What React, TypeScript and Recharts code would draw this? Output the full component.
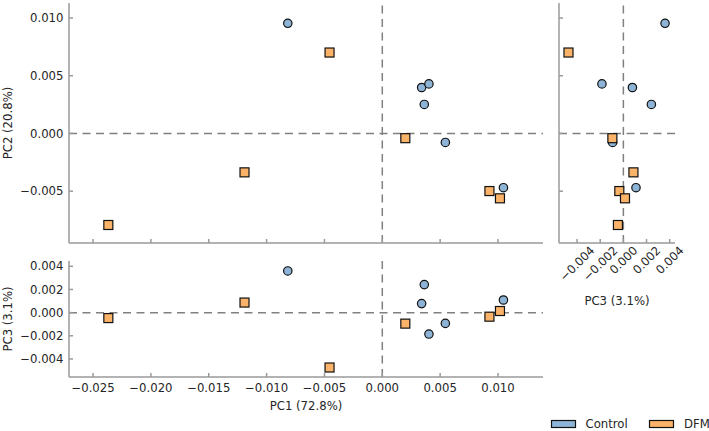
import React from 'react';
import { ScatterChart, Scatter, XAxis, YAxis, ReferenceLine } from 'recharts';

// sample scores, one entry per sample (same order in each array)
const controlPC1 = [-0.00817, 0.0034, 0.00403, 0.00363, 0.00545, 0.01047];
const controlPC2 = [0.00954, 0.00398, 0.00429, 0.00251, -0.00078, -0.0047];
const controlPC3 = [0.0036, 0.00078, -0.00185, 0.00242, -0.00093, 0.00109];

const dfmPC1 = [-0.00456, -0.01191, -0.02368, 0.00199, 0.00926, 0.01017];
const dfmPC2 = [0.00701, -0.00337, -0.00793, -0.00041, -0.00499, -0.00562];
const dfmPC3 = [-0.00474, 0.00087, -0.00047, -0.00095, -0.00035, 0.00014];

const pc1Ticks = [-0.025, -0.02, -0.015, -0.01, -0.005, 0, 0.005, 0.01];
const pc2Ticks = [-0.005, 0, 0.005, 0.01];
const pc3Ticks = [-0.004, -0.002, 0, 0.002, 0.004];

const pc1Domain: [number, number] = [-0.02708, 0.01389];
const pc2Domain: [number, number] = [-0.00949, 0.0113];
const pc3Domain: [number, number] = [-0.00556, 0.00446];

const BLUE = '#8db4d6';
const ORANGE = '#fbb36a';
const SPINE = '#9a9a9a';
const TEXT = '#262626';
const FONT = 'DejaVu Sans';
const FS = 11.7;

const toRows = (a: number[], b: number[], c: number[]) =>
  a.map((v, i) => ({ pc1: v, pc2: b[i], pc3: c[i] }));

const controlData = toRows(controlPC1, controlPC2, controlPC3);
const dfmData = toRows(dfmPC1, dfmPC2, dfmPC3);

const fmt = (v: number) => v.toFixed(3).replace('-', '\u2212');

const CircleDot = (p: any) => (
  <circle cx={p.cx} cy={p.cy} r={4.2} fill={BLUE} stroke="#111" strokeWidth={1.2} />
);
const SquareDot = (p: any) => (
  <rect x={p.cx - 4.5} y={p.cy - 4.5} width={9} height={9} fill={ORANGE} stroke="#111" strokeWidth={1.2} />
);

const NoTick = () => <g />;

// rough DejaVu Sans advance widths (em) so the rotated labels can be centred like matplotlib
const charW = (ch: string) => (ch === '.' ? 0.318 : ch === '\u2212' ? 0.838 : 0.636);

const RotatedTick = (p: any) => {
  const label = fmt(p.payload.value);
  const w = label.split('').reduce((s, ch) => s + charW(ch), 0) * FS;
  const half = (w + FS) * 0.3536;
  return (
    <g transform={`translate(${p.x},${p.y + half}) rotate(-45)`}>
      <text textAnchor="middle" dy="0.36em" fill={TEXT} fontSize={FS} fontFamily={FONT}>
        {label}
      </text>
    </g>
  );
};

const tickStyle = { fill: TEXT, fontSize: FS, fontFamily: FONT };
const labelStyle = { fill: TEXT, fontSize: FS, fontFamily: FONT };
const axisLine = { stroke: SPINE, strokeWidth: 1.5 };
const tickLine = { stroke: SPINE, strokeWidth: 1.5 };
const refProps = { stroke: '#808080', strokeWidth: 1.5, strokeDasharray: '8 5.5' };

export default function App() {
  return (
    <div
      style={{
        position: 'absolute',
        left: 0,
        top: 0,
        width: 709,
        height: 431,
        background: '#fff',
        fontFamily: FONT,
      }}
    >
      {/* PC1 vs PC2 */}
      <div style={{ position: 'absolute', left: 0, top: 0 }}>
        <ScatterChart width={560} height={246} margin={{ top: 3, right: 17, bottom: 0, left: 0 }}>
          <XAxis
            type="number"
            dataKey="pc1"
            domain={pc1Domain}
            ticks={pc1Ticks}
            allowDataOverflow
            interval={0}
            height={3}
            tickSize={-4}
            tick={NoTick}
            axisLine={axisLine}
            tickLine={tickLine}
          />
          <YAxis
            type="number"
            dataKey="pc2"
            domain={pc2Domain}
            ticks={pc2Ticks}
            allowDataOverflow
            interval={0}
            width={69}
            tickSize={-4}
            tickMargin={9.5}
            tickFormatter={fmt}
            tick={tickStyle}
            axisLine={axisLine}
            tickLine={tickLine}
            label={{
              value: 'PC2 (20.8%)',
              angle: -90,
              position: 'insideLeft',
              offset: 7.5,
              style: { ...labelStyle, textAnchor: 'middle' },
            }}
          />
          <ReferenceLine y={0} {...refProps} />
          <ReferenceLine x={0} {...refProps} />
          <Scatter data={controlData} shape={CircleDot} isAnimationActive={false} />
          <Scatter data={dfmData} shape={SquareDot} isAnimationActive={false} />
        </ScatterChart>
      </div>

      {/* PC3 vs PC2 */}
      <div style={{ position: 'absolute', left: 540, top: 0 }}>
        <ScatterChart width={169} height={320} margin={{ top: 3, right: 34, bottom: 0, left: 0 }}>
          <XAxis
            type="number"
            dataKey="pc3"
            domain={pc3Domain}
            ticks={pc3Ticks}
            allowDataOverflow
            interval={0}
            height={77}
            tickSize={-4}
            tickMargin={5}
            tick={RotatedTick}
            axisLine={axisLine}
            tickLine={tickLine}
            label={{ value: 'PC3 (3.1%)', position: 'insideTop', offset: 53.7, style: labelStyle }}
          />
          <YAxis
            type="number"
            dataKey="pc2"
            domain={pc2Domain}
            ticks={pc2Ticks}
            allowDataOverflow
            interval={0}
            width={19}
            tickSize={-4}
            tick={NoTick}
            axisLine={axisLine}
            tickLine={tickLine}
          />
          <ReferenceLine y={0} {...refProps} />
          <ReferenceLine x={0} {...refProps} />
          <Scatter data={controlData} shape={CircleDot} isAnimationActive={false} />
          <Scatter data={dfmData} shape={SquareDot} isAnimationActive={false} />
        </ScatterChart>
      </div>

      {/* PC1 vs PC3 */}
      <div style={{ position: 'absolute', left: 0, top: 240 }}>
        <ScatterChart width={560} height={191} margin={{ top: 21, right: 17, bottom: 0, left: 0 }}>
          <XAxis
            type="number"
            dataKey="pc1"
            domain={pc1Domain}
            ticks={pc1Ticks}
            allowDataOverflow
            interval={0}
            height={54}
            tickSize={-4}
            tickMargin={10.6}
            tickFormatter={fmt}
            tick={tickStyle}
            axisLine={axisLine}
            tickLine={tickLine}
            label={{ value: 'PC1 (72.8%)', position: 'insideTop', offset: 24.7, style: labelStyle }}
          />
          <YAxis
            type="number"
            dataKey="pc3"
            domain={pc3Domain}
            ticks={pc3Ticks}
            allowDataOverflow
            interval={0}
            width={69}
            tickSize={-4}
            tickMargin={9.5}
            tickFormatter={fmt}
            tick={tickStyle}
            axisLine={axisLine}
            tickLine={tickLine}
            label={{
              value: 'PC3 (3.1%)',
              angle: -90,
              position: 'insideLeft',
              offset: 7.5,
              style: { ...labelStyle, textAnchor: 'middle' },
            }}
          />
          <ReferenceLine y={0} {...refProps} />
          <ReferenceLine x={0} {...refProps} />
          <Scatter data={controlData} shape={CircleDot} isAnimationActive={false} />
          <Scatter data={dfmData} shape={SquareDot} isAnimationActive={false} />
        </ScatterChart>
      </div>

      {/* legend */}
      <svg
        width={170}
        height={20}
        style={{ position: 'absolute', left: 540, top: 414 }}
        fontFamily={FONT}
        fontSize={FS}
      >
        <rect x={11.5} y={6.5} width={24} height={7} fill={BLUE} stroke="#111" strokeWidth={1.2} />
        <text x={45.5} y={14.2} fill={TEXT}>Control</text>
        <rect x={109.5} y={6.5} width={24} height={7} fill={ORANGE} stroke="#111" strokeWidth={1.2} />
        <text x={144} y={14.2} fill={TEXT}>DFM</text>
      </svg>
    </div>
  );
}
